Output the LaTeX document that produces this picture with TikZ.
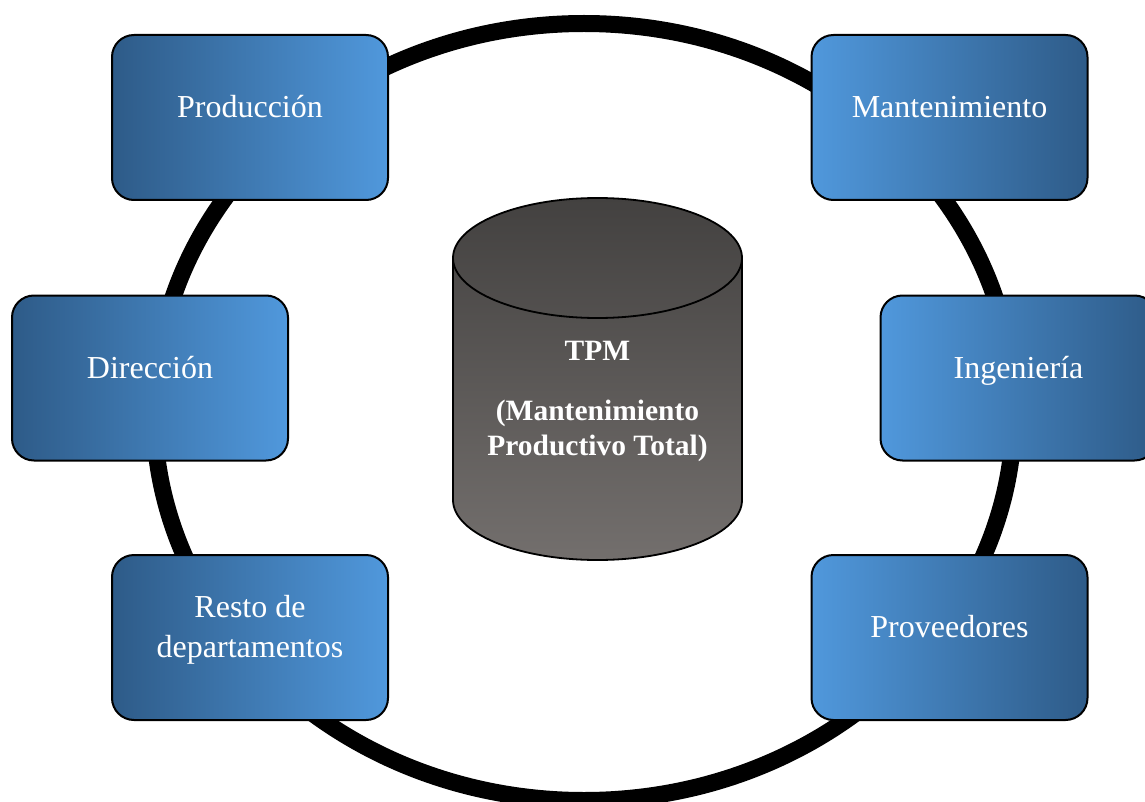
\documentclass[tikz,border=0pt]{standalone}
\usepackage{fontspec}
\setmainfont{Liberation Serif}
\definecolor{bdark}{HTML}{2E5B88}
\definecolor{blight}{HTML}{5098DC}
\definecolor{ctop}{HTML}{434140}
\definecolor{cbot}{HTML}{736F6D}
\tikzset{
  box/.style={draw=black, line width=2pt, rounded corners=22pt, minimum width=276pt, minimum height=165pt, inner sep=0pt},
  boxL/.style={box, left color=bdark, right color=blight},
  boxR/.style={box, left color=blight, right color=bdark},
  lbl/.style={text=white, font=\fontsize{32}{40}\selectfont, align=center, inner sep=0pt},
  ring/.style={draw=black, line width=17pt},
  cyl/.style={draw=black, line width=1.8pt},
  cyltxt/.style={text=white, font=\fontsize{29.5}{35}\selectfont\bfseries, align=center, inner sep=0pt}
}
\begin{document}
\begin{tikzpicture}[x=1pt, y=-1pt]
\useasboundingbox (0,0) rectangle (1145,802);
\clip (0,0) rectangle (1145,802);
\fill[white] (0,0) rectangle (1145,802);
% ring
\draw[ring] (584,412) ellipse [x radius=430, y radius=388.5];
% cylinder
\shade[top color=ctop, bottom color=cbot, draw=black, line width=1.8pt]
  (453,258) arc[start angle=180, end angle=0, x radius=144.5, y radius=-60]
  -- (742,500) arc[start angle=0, end angle=-180, x radius=144.5, y radius=-60] -- cycle;
\draw[cyl] (453,258) arc[start angle=180, end angle=360, x radius=144.5, y radius=-60];
\node[cyltxt, anchor=base] (tpm) at (597.5,360) {TPM};
\node[cyltxt, anchor=base] (tpm2) at (597.5,420) {(Mantenimiento};
\node[cyltxt, anchor=base] (tpm3) at (597.5,455) {Productivo Total)};
% boxes
\node[boxL] (prod) at (250,117.5) {};
\node[boxR] (mant) at (949.5,117.5) {};
\node[boxL] (dir) at (150,378) {};
\node[boxR] (ing) at (1018.5,378) {};
\node[boxL] (resto) at (250,637.5) {};
\node[boxR] (prov) at (949.5,637.5) {};
% labels
\node[lbl, anchor=base] (prodt) at (prod.center) {Producción};
\node[lbl, anchor=base] (mantt) at (mant.center) {Mantenimiento};
\node[lbl, anchor=base] (dirt) at (dir.center) {Dirección};
\node[lbl, anchor=base] (ingt) at (ing.center) {Ingeniería};
\node[lbl, anchor=base] (restot1) at ([yshift=20pt]resto.center) {Resto de};
\node[lbl, anchor=base] (restot2) at ([yshift=-20pt]resto.center) {departamentos};
\node[lbl, anchor=base] (provt) at (prov.center) {Proveedores};
\end{tikzpicture}
\end{document}
